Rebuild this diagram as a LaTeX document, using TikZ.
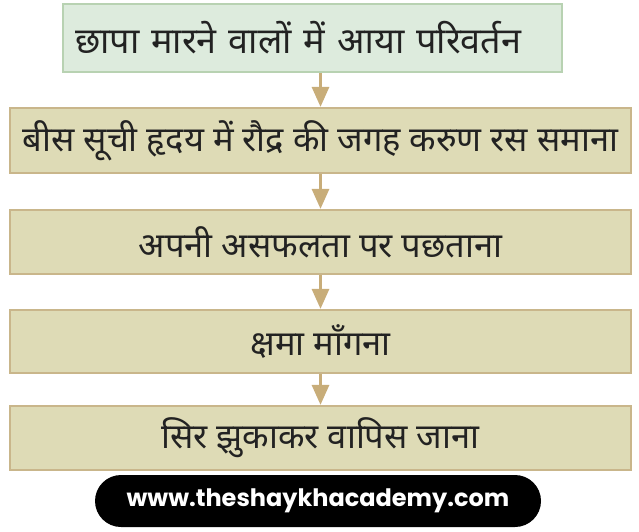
\documentclass[tikz,border=0pt]{standalone}
\usepackage{fontspec}
\setmainfont{Liberation Sans}
\newfontfamily\hindi[Script=Devanagari]{Noto Sans}
\newfontfamily\webfont{Poppins}
\usetikzlibrary{arrows.meta}
\definecolor{mintfill}{HTML}{DDEBDD}
\definecolor{mintline}{HTML}{B8D2B2}
\definecolor{tanfill}{HTML}{DEDBB6}
\definecolor{tanline}{HTML}{C9B68B}
\definecolor{arrowcol}{HTML}{C8AD79}
\definecolor{txt}{HTML}{222222}
\tikzset{
  stepbox/.style={draw=tanline, fill=tanfill, line width=2.2pt, minimum width=621pt,
    inner sep=0pt, font=\hindi\fontsize{34.5}{40}\selectfont, text=txt},
  topbox/.style={stepbox, draw=mintline, fill=mintfill, minimum width=0pt,
    text width=475pt, inner xsep=12pt, align=left, font=\hindi\fontsize{36}{42}\selectfont},
  flow/.style={draw=arrowcol, line width=3pt, -{Triangle[length=20pt,width=17pt]}}
}
\begin{document}
\begin{tikzpicture}[x=1pt,y=-1pt]
\useasboundingbox (0,0) rectangle (639,532);
\node[topbox, minimum height=68pt] (b1) at (312.5,38) {छापा मारने वालों में आया परिवर्तन};
\node[stepbox, minimum height=65pt] (b2) at (320.5,140.5) {बीस सूची हृदय में रौद्र की जगह करुण रस समाना};
\node[stepbox, minimum height=64pt] (b3) at (320.5,242) {अपनी असफलता पर पछताना};
\node[stepbox, minimum height=63pt] (b4) at (320.5,341.5) {क्षमा माँगना};
\node[stepbox, minimum height=64pt] (b5) at (320.5,438) {सिर झुकाकर वापिस जाना};
\node[fill=black, rounded corners=26pt, minimum width=446pt, minimum height=52pt,
  text=white, font=\webfont\bfseries\fontsize{24}{28}\selectfont] (web) at (318,501) {www.theshaykhacademy.com};
\draw[flow] (b2.north |- b1.south) -- (b2.north);
\draw[flow] (b2.south) -- (b3.north);
\draw[flow] (b3.south) -- (b4.north);
\draw[flow] (b4.south) -- (b5.north);
\end{tikzpicture}
\end{document}
